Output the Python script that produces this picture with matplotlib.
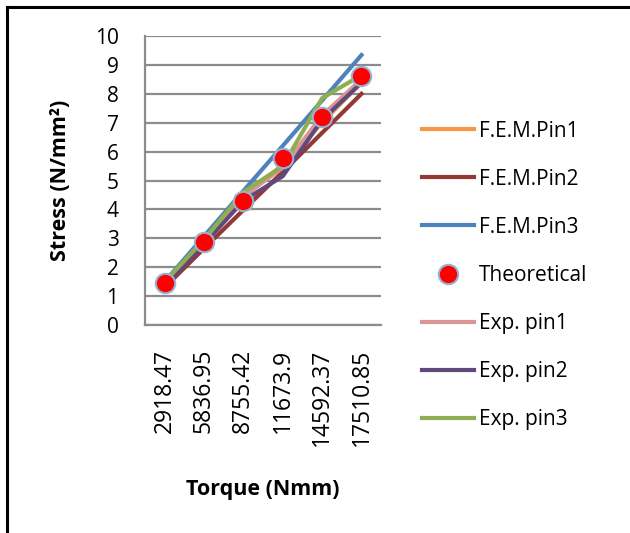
import matplotlib
matplotlib.use('Agg')
from matplotlib import pyplot as plt
from matplotlib.lines import Line2D

plt.rcParams['font.family'] = ['Open Sans', 'DejaVu Sans']

torque = ['2918.47', '5836.95', '8755.42', '11673.9', '14592.37', '17510.85']

fem_pin1 = [1.44, 2.88, 4.40, 5.55, 7.00, 8.40]
fem_pin2 = [1.30, 2.65, 3.98, 5.30, 6.65, 8.00]
fem_pin3 = [1.50, 3.07, 4.64, 6.20, 7.77, 9.34]
theoretical = [1.44, 2.88, 4.31, 5.77, 7.21, 8.63]
exp_pin1 = [1.44, 2.88, 4.45, 5.45, 7.25, 8.50]
exp_pin2 = [1.35, 2.80, 4.30, 5.15, 7.10, 8.38]
exp_pin3 = [1.50, 2.95, 4.60, 5.50, 7.85, 8.65]

fig = plt.figure(figsize=(6.3, 5.33), dpi=100)
ax = fig.add_axes([0.230, 0.390, 0.375, 0.5425])

x = range(len(torque))
lw = 3.0
ax.plot(x, fem_pin1, color='#F79646', lw=lw, label='F.E.M.Pin1', zorder=3)
ax.plot(x, fem_pin2, color='#953735', lw=lw, label='F.E.M.Pin2', zorder=3)
ax.plot(x, fem_pin3, color='#4F81BD', lw=lw, label='F.E.M.Pin3', zorder=3)
ax.plot(x, exp_pin1, color='#D99694', lw=lw, label='Exp. pin1', zorder=3)
ax.plot(x, exp_pin2, color='#604A7B', lw=lw, label='Exp. pin2', zorder=3)
ax.plot(x, exp_pin3, color='#8FAE52', lw=lw, label='Exp. pin3', zorder=3)
ax.plot(x, theoretical, ls='none', marker='o', ms=14, mfc='#FF0000',
        mec='#95B3D7', mew=1.5, label='Theoretical', zorder=5)

ax.set_xlim(-0.5, 5.5)
ax.set_ylim(0, 10)
ax.set_yticks(range(0, 11))
ax.set_xticks(list(x))
ax.set_xticklabels(torque, rotation=90)
ax.tick_params(axis='y', length=0, labelsize=15, pad=19)
ax.tick_params(axis='x', length=0, labelsize=16.5, pad=17)
ax.grid(axis='y', color='#8C8C8C', lw=1.6)
ax.set_axisbelow(True)
for s in ['top', 'right']:
    ax.spines[s].set_visible(False)
for s in ['left', 'bottom']:
    ax.spines[s].set_color('#8C8C8C')
    ax.spines[s].set_linewidth(1.6)

ax.set_xlabel('Torque (Nmm)', fontsize=15.5, fontweight='bold', labelpad=24)
ax.set_ylabel('Stress (N/mm²)', fontsize=15.5, fontweight='bold', labelpad=17)

# legend order as in the reference
handles, labels = ax.get_legend_handles_labels()
order = [0, 1, 2, 6, 3, 4, 5]
leg = fig.legend([handles[i] for i in order], [labels[i] for i in order],
                 loc='upper left', bbox_to_anchor=(0.640, 0.809),
                 frameon=False, fontsize=15, labelspacing=1.30,
                 handlelength=2.5, handletextpad=0.25)

# outer frame (top and left edges)
fig.add_artist(Line2D([0.011, 1.0], [0.987, 0.987], color='black', lw=2.2))
fig.add_artist(Line2D([0.011, 0.011], [0.0, 0.987], color='black', lw=2.2))

fig.savefig('out.png', dpi=100)
